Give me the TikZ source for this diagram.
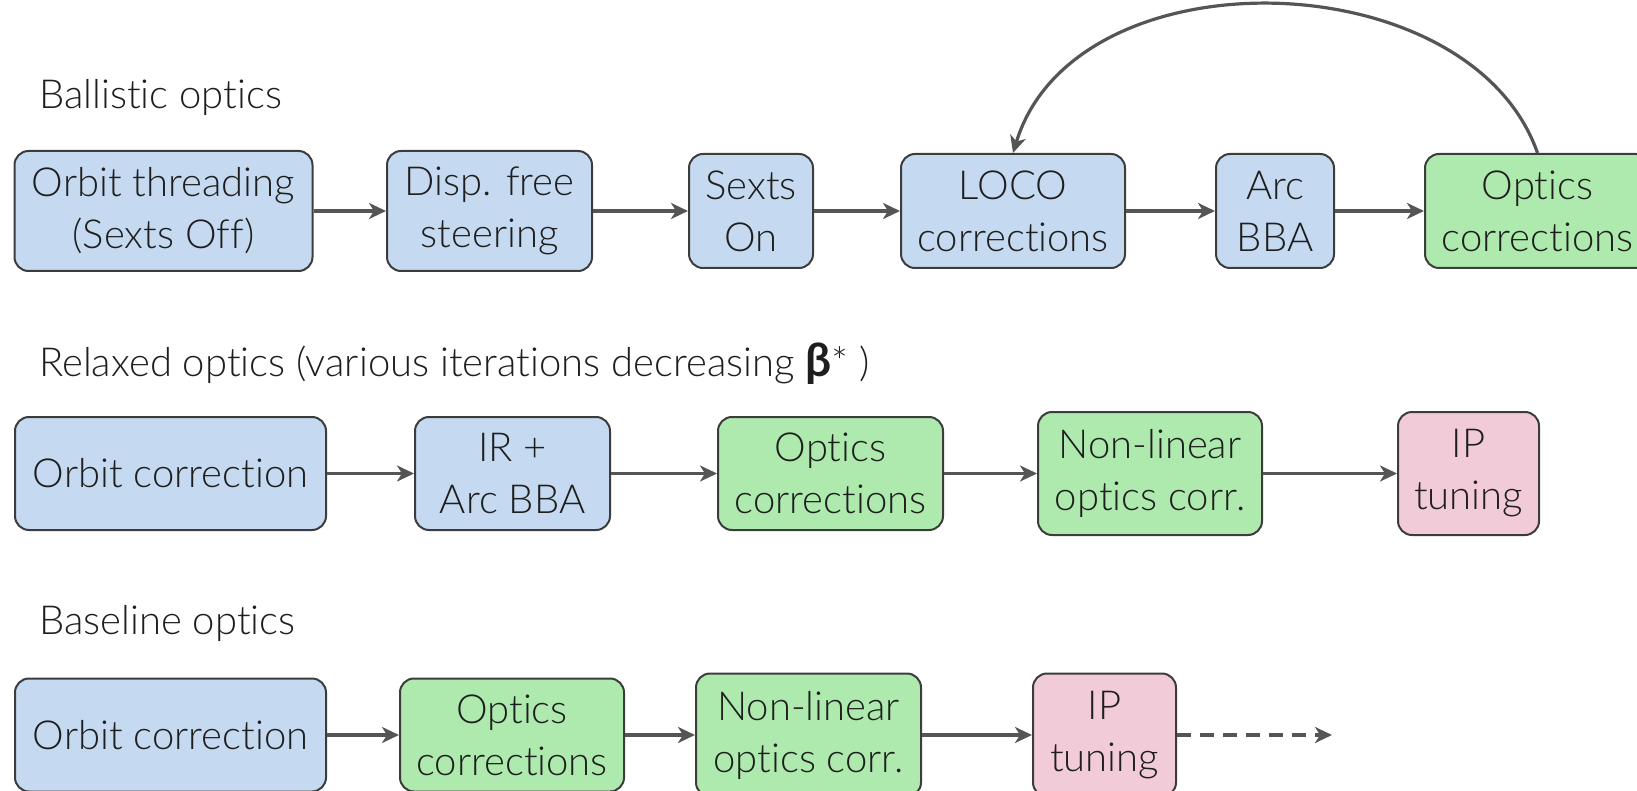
\documentclass[tikz,border=0pt]{standalone}
\usepackage{fontspec}
\setmainfont{Lato}[UprightFont={* Light},BoldFont={* Bold},Ligatures={NoCommon}]
\newfontfamily\betafont{Lato}
\usetikzlibrary{arrows.meta}
\definecolor{bluefill}{HTML}{C5DAF1}
\definecolor{greenfill}{HTML}{AEEAAE}
\definecolor{pinkfill}{HTML}{F2CBD8}
\definecolor{edgegray}{HTML}{3C3C3C}
\definecolor{arrowgray}{HTML}{555555}
\definecolor{txt}{HTML}{1E1E1E}
\tikzset{
  box/.style={draw=edgegray, line width=2pt, rounded corners=14pt, inner sep=0pt,
    align=center, text=txt, font=\fontsize{40}{52}\selectfont},
  bluebox/.style={box, fill=bluefill},
  greenbox/.style={box, fill=greenfill},
  pinkbox/.style={box, fill=pinkfill},
  rowlabel/.style={anchor=base west, inner sep=0pt, text=txt, font=\fontsize{40}{48}\selectfont},
  flow/.style={draw=arrowgray, line width=3.2pt, -{Stealth[length=17pt,width=16pt,inset=5pt]}},
}
\begin{document}
\begin{tikzpicture}[x=1pt,y=-1pt]
\useasboundingbox (0,0) rectangle (1637,791);
% row labels
\node[rowlabel] (l1) at (39,109) {Ballistic optics};
\node[rowlabel] (l2) at (39,376) {Relaxed optics (various iterations decreasing {\betafont\bfseries\fontsize{46}{48}\selectfont β}* )};
\node[rowlabel] (l3) at (39,634) {Baseline optics};
% row 1
\node[bluebox, minimum width=298pt, minimum height=120pt] (a1) at (163.5,211) {Orbit threading\\(Sexts Off)};
\node[bluebox, minimum width=205pt, minimum height=120pt] (a2) at (489.5,211) {Disp. free\\steering};
\node[bluebox, minimum width=124pt, minimum height=114pt] (a3) at (751,211) {Sexts\\On};
\node[bluebox, minimum width=224pt, minimum height=114pt] (a4) at (1013,211) {LOCO\\corrections};
\node[bluebox, minimum width=118pt, minimum height=114pt] (a5) at (1275,211) {Arc\\BBA};
\node[greenbox, minimum width=225pt, minimum height=114pt] (a6) at (1537.5,211) {Optics\\corrections};
\draw[flow] (a1) -- (a2);
\draw[flow] (a2) -- (a3);
\draw[flow] (a3) -- (a4);
\draw[flow] (a4) -- (a5);
\draw[flow] (a5) -- (a6);
\draw[flow] (a6.north) .. controls (1470,-40) and (1075,-50) .. (a4.north);
% row 2
\node[bluebox, minimum width=311pt, minimum height=113pt] (b1) at (170.5,473.5) {Orbit correction};
\node[bluebox, minimum width=195pt, minimum height=113pt] (b2) at (512.5,473.5) {IR +\\Arc BBA};
\node[greenbox, minimum width=225pt, minimum height=113pt] (b3) at (830.5,473.5) {Optics\\corrections};
\node[greenbox, minimum width=224pt, minimum height=123pt] (b4) at (1150,473.5) {Non-linear\\optics corr.};
\node[pinkbox, minimum width=141pt, minimum height=123pt] (b5) at (1468.5,473.5) {IP\\tuning};
\draw[flow] (b1) -- (b2);
\draw[flow] (b2) -- (b3);
\draw[flow] (b3) -- (b4);
\draw[flow] (b4) -- (b5);
% row 3
\node[bluebox, minimum width=311pt, minimum height=113pt] (c1) at (170.5,735) {Orbit correction};
\node[greenbox, minimum width=224pt, minimum height=113pt] (c2) at (512,735) {Optics\\corrections};
\node[greenbox, minimum width=225pt, minimum height=123pt] (c3) at (808.5,735) {Non-linear\\optics corr.};
\node[pinkbox, minimum width=143pt, minimum height=123pt] (c4) at (1104.5,735) {IP\\tuning};
\coordinate (cend) at (1332,735);
\draw[flow] (c1) -- (c2);
\draw[flow] (c2) -- (c3);
\draw[flow] (c3) -- (c4);
\draw[flow, dashed, dash pattern=on 14pt off 9pt] (c4) -- (cend);
\end{tikzpicture}
\end{document}
